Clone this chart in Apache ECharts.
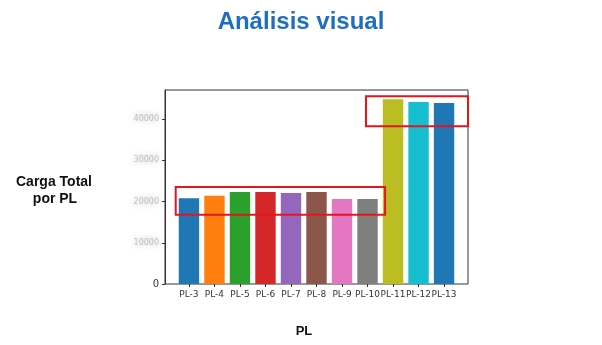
<!DOCTYPE html>
<html>
<head>
<meta charset="utf-8">
<script src="https://cdn.jsdelivr.net/npm/echarts@6/dist/echarts.min.js"></script>
<style>html,body{margin:0;padding:0;background:#fff}#c{width:602px;height:345px}</style>
</head>
<body>
<div id="c"></div>
<script>
const categories = ['PL-3','PL-4','PL-5','PL-6','PL-7','PL-8','PL-9','PL-10','PL-11','PL-12','PL-13'];
const values = [20800, 21400, 22300, 22300, 22050, 22300, 20600, 20600, 44800, 44150, 43900];
const barColors = ['#1f77b4','#ff7f0e','#2ca02c','#d62728','#9467bd','#8c564b','#e377c2','#7f7f7f','#bcbd22','#17becf','#1f77b4'];
const yTicks = [0, 10000, 20000, 30000, 40000];
// highlight boxes: [xStart, yStart, xEnd, yEnd] in data units (x = category index)
const box1 = [-0.52, 16800, 7.69, 23550];
const box2 = [6.94, 38250, 10.99, 45500];

const yMax = 47040;
const chart = echarts.init(document.getElementById('c'), null, {renderer: 'canvas'});
chart.setOption({
  animation: false,
  backgroundColor: '#fff',
  title: {
    text: 'Análisis visual', left: 'center', top: 5,
    textStyle: {color: '#1f6fc1', fontSize: 24, fontWeight: 'bold', fontFamily: 'Liberation Sans'}
  },
  graphic: [
    {type: 'text', x: 54, y: 175, style: {text: 'Carga Total', textAlign: 'center', fontSize: 14, fontWeight: 'bold', fontFamily: 'Liberation Sans', fill: '#111'}},
    {type: 'text', x: 55, y: 192, style: {text: 'por PL', textAlign: 'center', fontSize: 14, fontWeight: 'bold', fontFamily: 'Liberation Sans', fill: '#111'}},
    {type: 'text', x: 304, y: 325, style: {text: 'PL', textAlign: 'center', fontSize: 13, fontWeight: 'bold', fontFamily: 'Liberation Sans', fill: '#111'}}
  ],
  grid: [
    {left: 165, right: 134, top: 90, bottom: 61, show: true, borderColor: '#333', borderWidth: 1, backgroundColor: 'transparent'},
    {left: 176.2, right: 145.2, top: 90, bottom: 61}
  ],
  xAxis: [
    {gridIndex: 0, type: 'value', min: -0.94, max: 10.94, show: false},
    {gridIndex: 1, type: 'category', data: categories,
      axisLine: {show: false},
      axisTick: {show: true, alignWithLabel: true, length: 3, lineStyle: {color: '#333'}},
      axisLabel: {margin: 6, fontSize: 9, color: '#333', fontFamily: 'DejaVu Sans', interval: 0}}
  ],
  yAxis: [
    {gridIndex: 0, type: 'value', min: 0, max: yMax, interval: 10000,
      splitLine: {show: false},
      axisLine: {show: true, onZero: false, lineStyle: {color: '#333'}},
      axisTick: {show: true, length: 3, lineStyle: {color: '#333'}},
      axisLabel: {
        margin: 6, showMaxLabel: false,
        formatter: v => yTicks.indexOf(v) === 0 ? '{z|' + v + '}' : (yTicks.indexOf(v) > 0 ? '{b|' + v + '}' : ''),
        rich: {
          z: {fontSize: 10, color: '#333', fontFamily: 'DejaVu Sans'},
          b: {fontSize: 8, color: 'rgba(130,130,130,0.45)', fontFamily: 'DejaVu Sans', textShadowColor: 'rgba(100,100,100,1)', textShadowBlur: 6}
        }
      }},
    {gridIndex: 1, type: 'value', min: 0, max: yMax, show: false}
  ],
  series: [
    {
      type: 'bar', xAxisIndex: 1, yAxisIndex: 1, barWidth: 20.4,
      data: values.map((v, i) => ({value: v, itemStyle: {color: barColors[i]}}))
    },
    {
      type: 'line', xAxisIndex: 0, yAxisIndex: 0, data: [], clip: false, silent: true, z: 10,
      markArea: {
        silent: true, z: 10,
        itemStyle: {color: 'rgba(0,0,0,0)', borderColor: '#e8141b', borderWidth: 2},
        data: [
          [{coord: [box1[0], box1[1]]}, {coord: [box1[2], box1[3]]}],
          [{coord: [box2[0], box2[1]]}, {coord: [box2[2], box2[3]]}]
        ]
      }
    }
  ]
});
</script>
</body>
</html>
